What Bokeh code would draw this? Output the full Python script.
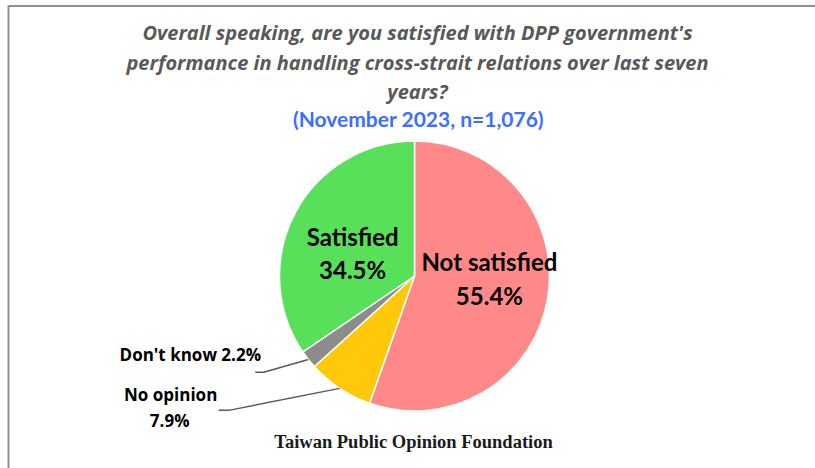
import math
from bokeh.plotting import figure
from bokeh.models import Range1d, ColumnDataSource
from bokeh.core.properties import value
from bokeh.embed import file_html
from bokeh.resources import INLINE

# ---- data ----
categories = ["Not satisfied", "No opinion", "Don't know", "Satisfied"]
percents = [55.4, 7.9, 2.2, 34.5]
colors = ["#FF8989", "#FFC90A", "#8C8C8C", "#58E05A"]
title_lines = [
    "Overall speaking, are you satisfied with DPP government's",
    "performance in handling cross-strait relations over last seven",
    "years?",
]
subtitle = "(November 2023, n=1,076)"
footer = "Taiwan Public Opinion Foundation"

# ---- layout (page pixel coordinates, y flipped) ----
W, H = 815, 468
def Y(py):
    return H - py

cx, cy, R = 414, Y(275.5), 135

p = figure(width=W, height=H, output_backend="svg", toolbar_location=None,
           x_range=Range1d(0, W), y_range=Range1d(0, H),
           min_border=0, match_aspect=False)
p.axis.visible = False
p.grid.visible = False
p.outline_line_color = None
p.background_fill_color = "white"
p.border_fill_color = "white"

# border lines (top and left)
p.segment(x0=[8, 8], y0=[Y(5.5), Y(5)], x1=[W + 10, 8], y1=[Y(5.5), -10],
          line_color="#8F8F8F", line_width=2)

# wedges: clockwise from 12 o'clock
starts, ends, mids = [], [], []
a = math.pi / 2
for v in percents:
    span = v / 100 * 2 * math.pi
    starts.append(a)
    ends.append(a - span)
    mids.append(a - span / 2)
    a -= span

src = ColumnDataSource(dict(start=starts, end=ends, color=colors,
                            x=[cx] * 4, y=[cy] * 4))
p.wedge(x="x", y="y", radius=R, start_angle="start", end_angle="end",
        direction="clock", fill_color="color", line_color="white",
        line_width=1.5, source=src)

LATO = value("Lato")
OPEN = value("Open Sans")

def label(x, y, txt, size, color="black", style="bold", font=LATO, align="center"):
    p.text(x=[x], y=[y], text=[txt], text_font=font, text_font_size=size,
           text_font_style=style, text_color=color, text_align=align,
           text_baseline="middle")

# inside labels
def inside(i, r, dx, dy):
    m = mids[i]
    return cx + r * math.cos(m) + dx, cy + r * math.sin(m) + dy

x0, y0 = inside(0, 76, 0, 10)
label(x0, y0 + 17, categories[0], "24px")
label(x0, y0 - 17, f"{percents[0]}%", "24px")
x3, y3 = inside(3, 70, 0, -10)
label(x3, y3 + 16.5, categories[3], "24px")
label(x3, y3 - 16.5, f"{percents[3]}%", "24px")

# outside labels with leader lines
def leader(i, elbow_dx, elbow_dy, tail):
    m = mids[i]
    ex, ey = cx + R * math.cos(m), cy + R * math.sin(m)
    bx, by = ex + elbow_dx, ey + elbow_dy
    tx = bx - tail
    p.line(x=[ex, bx, tx], y=[ey, by, by], line_color="#595959", line_width=1.5)
    return tx, by

tx2, ty2 = leader(2, -44.6, -12.8, 8.5)
label(tx2 - 65, ty2 + 17.5, f"{categories[2]} {percents[2]}%", "17px", font=OPEN)
tx1, ty1 = leader(1, -111, -22, 10)
label(tx1 - 48, ty1 + 16, categories[1], "17px", font=OPEN)
label(tx1 - 49, ty1 - 10, f"{percents[1]}%", "17px", font=OPEN)

# titles
for i, t in enumerate(title_lines):
    label(417, Y(32 + i * 29.5), t, "20px", color="#595959", style="bold italic", font=OPEN)
label(418, Y(118), subtitle, "21px", color="#3C6EFF", style="bold")
label(413, Y(441), footer, "18.5px", color="#1a1a1a", style="bold",
      font=value("Liberation Serif"))

open("out.html", "w").write(file_html(p, INLINE))
